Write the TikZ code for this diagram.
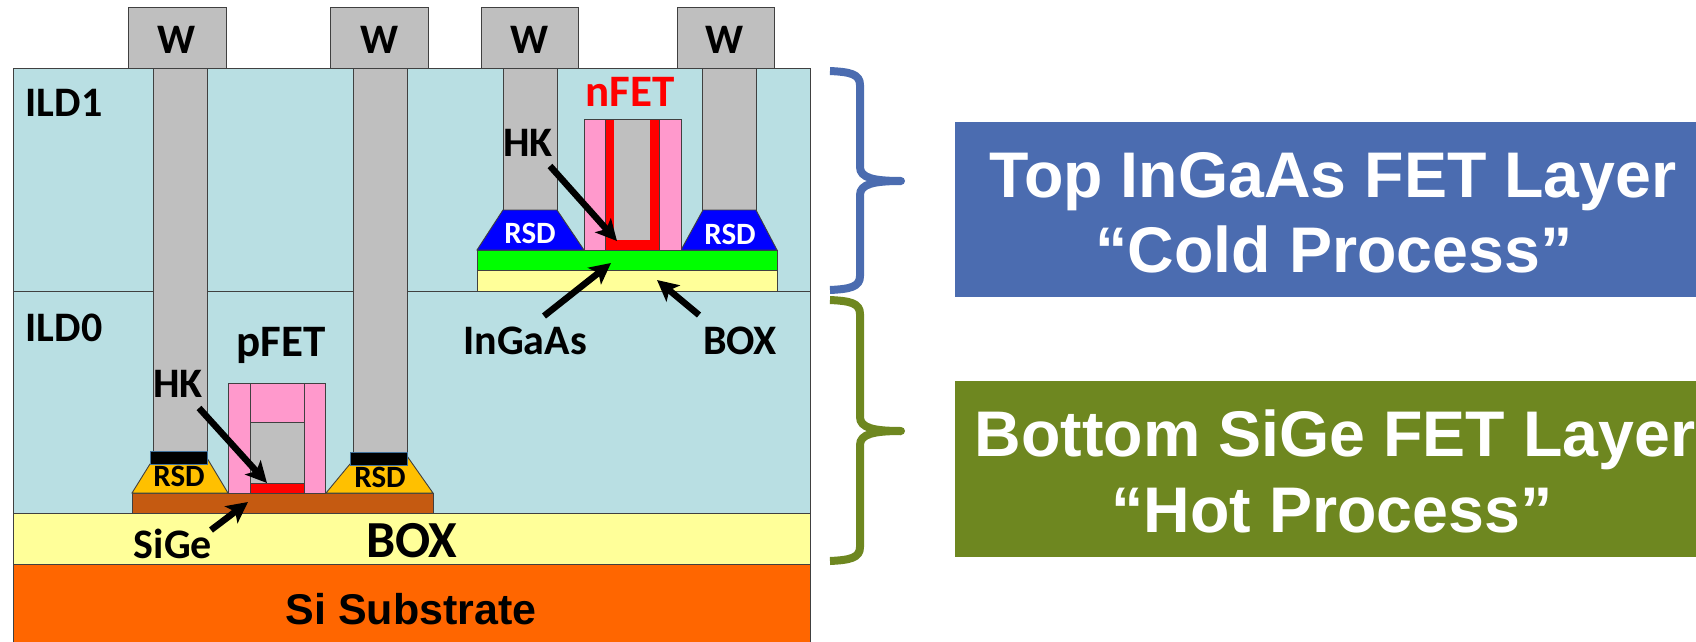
\documentclass[tikz,border=0pt]{standalone}
\usepackage{fontspec}
\setmainfont{Carlito}
\newfontfamily\arialf{Liberation Sans}
\usetikzlibrary{arrows.meta}
\definecolor{ild}{HTML}{B9DFE3}
\definecolor{boxy}{HTML}{FFFF99}
\definecolor{subst}{HTML}{FF6600}
\definecolor{wgrey}{HTML}{BFBFBF}
\definecolor{spacer}{HTML}{FF99CC}
\definecolor{rsdy}{HTML}{FFC000}
\definecolor{sige}{HTML}{C55A11}
\definecolor{bluebox}{HTML}{4B6CB0}
\definecolor{greenbox}{HTML}{6E8720}
\definecolor{capb}{HTML}{41719C}
\tikzset{
  lay/.style={draw=black!75,line width=0.9pt},
  lbl/.style={anchor=base,inner sep=0pt,font=\fontsize{42}{42}\selectfont\bfseries,text=black},
  rsd/.style={anchor=base,inner sep=0pt,font=\fontsize{31}{31}\selectfont\bfseries},
  big/.style={anchor=base,inner sep=0pt,font=\arialf\fontsize{64.5}{64.5}\selectfont\bfseries,text=white},
  callout/.style={line width=6.5pt,-{Stealth[length=21pt,width=21pt,inset=5pt]},black},
  bracel/.style={line width=8pt,line join=round}
}
\newcommand{\bracedraw}[4]{%
  \draw[bracel,draw=#4] (830,#1) .. controls (850,#1+1) and (860,#1+3) .. (860,#1+14) -- (860,#2-14) .. controls (860,#2-3) and (874,#2) .. (901,#2);
  \draw[bracel,draw=#4] (830,#3) .. controls (850,#3-1) and (860,#3-3) .. (860,#3-14) -- (860,#2+14) .. controls (860,#2+3) and (874,#2) .. (901,#2);
  \fill[#4] (901,#2) circle (4pt);
}
\begin{document}
\begin{tikzpicture}[x=1pt,y=-1pt]
\useasboundingbox (0,0) rectangle (1696,642);
% stack
\draw[lay,fill=ild] (13,68) rectangle (810,291);
\draw[lay,fill=ild] (13,291) rectangle (810,513);
\draw[lay,fill=boxy] (13,513) rectangle (810,564);
\draw[lay,fill=subst] (13,564) rectangle (810,642);
% W pads
\draw[lay,fill=wgrey] (128,7) rectangle (226,68);
\draw[lay,fill=wgrey] (330,7) rectangle (428,68);
\draw[lay,fill=wgrey] (481,7) rectangle (578,68);
\draw[lay,fill=wgrey] (677,7) rectangle (774,68);
% pillars
\draw[lay,fill=wgrey] (153,68) rectangle (207,452);
\draw[lay,fill=wgrey] (353,68) rectangle (407,452);
\draw[lay,fill=wgrey] (503,68) rectangle (557,210);
\draw[lay,fill=wgrey] (702,68) rectangle (756,210);
% bottom device
\draw[lay,fill=sige] (132,493) rectangle (433,513);
\draw[lay,fill=rsdy] (132,493) -- (150,464) -- (207,458) -- (228,493) -- cycle;
\draw[lay,fill=rsdy] (326,493) -- (350,464) -- (407,456) -- (433,493) -- cycle;
\draw[line width=1pt,draw=capb,fill=black] (150,451) rectangle (207,464);
\draw[line width=1pt,draw=capb,fill=black] (350,452) rectangle (407,465);
\draw[lay,fill=spacer] (228,383) rectangle (325,493);
\draw[lay,fill=wgrey] (250,422) rectangle (304,483);
\draw[lay] (250,383) -- (250,493) (304,383) -- (304,493);
\draw[lay,fill=red] (250,483) rectangle (304,493);
% top device
\draw[lay,fill=boxy] (477,270) rectangle (777,291);
\draw[lay,fill=green] (477,250) rectangle (777,270);
\draw[lay,fill=blue] (477,250) -- (503,210) -- (557,210) -- (584,250) -- cycle;
\draw[lay,fill=blue] (681,250) -- (703,210) -- (756,210) -- (777,250) -- cycle;
\draw[lay,fill=spacer] (584,119) rectangle (681,250);
\draw[lay,fill=red] (605,119) rectangle (659,250);
\fill[wgrey] (614,119) rectangle (650,240);
\draw[lay] (605,119) -- (659,119);
% arrow ends
\coordinate (hkA) at (199,408);
\coordinate (hkAe) at (267,483);
\coordinate (sgA) at (211,530);
\coordinate (sgAe) at (248,502);
\coordinate (hkB) at (550,166);
\coordinate (hkBe) at (617,241);
\coordinate (inA) at (544,316);
\coordinate (inAe) at (611,263);
\coordinate (bxA) at (699,315);
\coordinate (bxAe) at (657,280);
\draw[callout] (hkA) -- (hkAe);
\draw[callout] (sgA) -- (sgAe);
\draw[callout] (hkB) -- (hkBe);
\draw[callout] (inA) -- (inAe);
\draw[callout] (bxA) -- (bxAe);
% labels
\node[lbl] (w1) at (177,53) {W};
\node[lbl] (w2) at (380,53) {W};
\node[lbl] (w3) at (530,53) {W};
\node[lbl] (w4) at (725,53) {W};
\node[lbl] (ild1) at (64,116) {ILD1};
\node[lbl] (ild0) at (64,341) {ILD0};
\node[lbl,font=\fontsize{45}{45}\selectfont\bfseries] (pfet) at (281,356) {pFET};
\node[lbl,text=red,font=\fontsize{45}{45}\selectfont\bfseries] (nfet) at (630,106) {nFET};
\node[lbl] (hk1) at (178,397) {HK};
\node[lbl] (hk2) at (528,156) {HK};
\node[lbl] (inga) at (525,354) {InGaAs};
\node[lbl] (box1) at (740,354) {BOX};
\node[lbl] (sg) at (173,558) {SiGe};
\node[lbl,font=\fontsize{52}{52}\selectfont\bfseries] (box0) at (412,557) {BOX};
\node[lbl,font=\arialf\fontsize{43}{43}\selectfont\bfseries] (si) at (411,624) {Si Substrate};
\node[rsd] (r1) at (179,486) {RSD};
\node[rsd] (r2) at (380,487) {RSD};
\node[rsd,text=white] (r3) at (530,243) {RSD};
\node[rsd,text=white] (r4) at (730,244) {RSD};
% braces
\bracedraw{71}{181}{290}{bluebox}
\bracedraw{300}{431}{561}{greenbox}
% boxes
\fill[bluebox] (955,122) rectangle (1696,297);
\fill[greenbox] (955,381) rectangle (1696,557);
\node[big] (t1) at (1333,197) {Top InGaAs FET Layer};
\node[big] (t2) at (1334,272) {“Cold Process”};
\node[big] (b1) at (1335,456) {Bottom SiGe FET Layer};
\node[big] (b2) at (1332,532) {“Hot Process”};
\end{tikzpicture}
\end{document}
